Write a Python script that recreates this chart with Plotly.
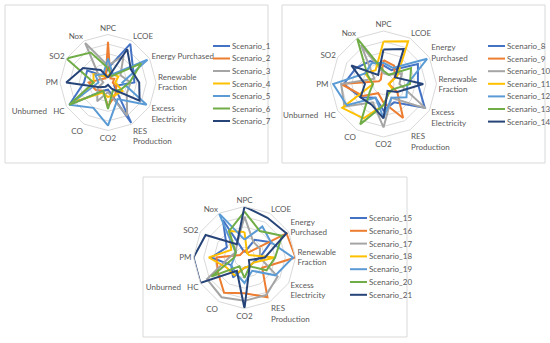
import plotly.graph_objects as go

W, H = 550, 343

categories = ["NPC", "LCOE", "Energy Purchased", "Renewable Fraction", "Excess Electricity",
              "RES Production", "CO2", "CO", "Unburned HC", "PM", "SO2", "Nox"]
labels_a = ["NPC", "LCOE", "Energy Purchased", "Renewable<br>Fraction", "Excess<br>Electricity",
            "RES<br>Production", "CO2", "CO", "Unburned\u00a0\u00a0\u00a0HC", "PM", "SO2", "Nox"]
labels_b = ["NPC", "LCOE", "Energy<br>Purchased", "Renewable<br>Fraction", "Excess<br>Electricity",
            "RES<br>Production", "CO2", "CO", "Unburned\u00a0\u00a0\u00a0HC", "PM", "SO2", "Nox"]

colors = ["#4472C4", "#ED7D31", "#A5A5A5", "#FFC000", "#5B9BD5", "#70AD47", "#264478"]

# Panel 1
names_1 = ["Scenario_1", "Scenario_2", "Scenario_3", "Scenario_4", "Scenario_5", "Scenario_6", "Scenario_7"]
scenario_1 = [0.30, 0.93, 0.60, 0.55, 0.15, 0.97, 0.15, 0.20, 0.93, 0.50, 0.50, 0.15]
scenario_2 = [0.85, 0.10, 0.15, 0.10, 0.20, 0.30, 0.50, 0.20, 0.30, 0.40, 0.15, 0.10]
scenario_3 = [0.35, 0.65, 0.30, 0.47, 0.45, 0.80, 0.20, 0.45, 0.25, 0.10, 0.20, 0.95]
scenario_4 = [0.15, 0.20, 0.25, 0.15, 0.35, 0.30, 0.30, 0.25, 0.80, 0.30, 0.35, 0.15]
scenario_5 = [0.50, 0.20, 0.95, 0.30, 0.93, 0.40, 0.90, 0.61, 0.93, 0.20, 0.30, 0.20]
scenario_6 = [0.30, 0.15, 0.80, 0.45, 0.30, 0.20, 0.55, 0.20, 0.93, 0.30, 1.00, 0.72]
scenario_7 = [0.10, 0.80, 0.55, 0.65, 0.76, 0.15, 0.05, 0.10, 0.20, 0.87, 0.60, 0.30]

# Panel 2
names_2 = ["Scenario_8", "Scenario_9", "Scenario_10", "Scenario_11", "Scenario_12", "Scenario_13", "Scenario_14"]
scenario_8 = [0.35, 0.30, 0.75, 0.65, 0.90, 0.40, 0.50, 0.30, 0.50, 0.75, 0.60, 0.50]
scenario_9 = [0.45, 0.40, 0.25, 0.10, 0.30, 0.74, 0.35, 0.20, 0.45, 0.80, 0.10, 0.10]
scenario_10 = [0.20, 0.20, 0.40, 0.30, 0.92, 0.30, 0.82, 0.40, 0.85, 0.80, 0.20, 0.85]
scenario_11 = [0.80, 0.93, 0.30, 0.10, 0.20, 0.20, 0.40, 0.75, 0.90, 0.20, 0.40, 0.30]
scenario_12 = [0.40, 0.35, 0.95, 0.45, 0.50, 0.30, 0.64, 0.30, 0.80, 0.95, 0.40, 0.45]
scenario_13 = [0.25, 0.20, 0.60, 0.50, 0.20, 0.20, 0.40, 0.88, 0.30, 0.20, 0.35, 1.00]
scenario_14 = [0.65, 0.76, 0.25, 0.75, 0.30, 0.15, 0.65, 0.45, 0.50, 0.35, 0.70, 0.20]

# Panel 3
names_3 = ["Scenario_15", "Scenario_16", "Scenario_17", "Scenario_18", "Scenario_19", "Scenario_20", "Scenario_21"]
scenario_15 = [0.10, 0.40, 0.60, 0.30, 0.20, 0.20, 0.20, 0.45, 0.30, 0.65, 0.40, 0.85]
scenario_16 = [0.15, 0.10, 0.95, 1.00, 0.40, 0.90, 0.70, 0.80, 0.60, 0.55, 0.10, 0.10]
scenario_17 = [0.80, 0.35, 0.35, 0.30, 0.75, 0.85, 0.85, 0.90, 0.85, 0.30, 0.20, 0.30]
scenario_18 = [0.50, 0.10, 0.10, 0.60, 0.20, 0.20, 0.20, 0.40, 0.40, 0.70, 0.30, 0.60]
scenario_19 = [0.35, 0.70, 0.60, 0.95, 0.70, 0.30, 0.50, 0.35, 0.30, 0.20, 0.20, 1.00]
scenario_20 = [0.90, 0.60, 0.85, 0.60, 0.50, 0.20, 0.40, 0.20, 0.75, 0.20, 0.20, 0.60]
scenario_21 = [1.00, 0.90, 0.95, 0.40, 0.10, 0.20, 1.00, 0.30, 1.00, 1.00, 0.88, 0.30]

panels = [
    dict(names=names_1, series=[scenario_1, scenario_2, scenario_3, scenario_4, scenario_5, scenario_6, scenario_7],
         labels=labels_a, center=(108, 82.5), R=48, box=(5, 5, 268, 163),
         leg_x=213, leg_y=46, leg_dy=12.5),
    dict(names=names_2, series=[scenario_8, scenario_9, scenario_10, scenario_11, scenario_12, scenario_13, scenario_14],
         labels=labels_b, center=(383.5, 84), R=53, box=(282, 5, 545, 163),
         leg_x=488, leg_y=46, leg_dy=12.6),
    dict(names=names_3, series=[scenario_15, scenario_16, scenario_17, scenario_18, scenario_19, scenario_20, scenario_21],
         labels=labels_b, center=(244.5, 257.5), R=51, box=(143, 177, 407, 337),
         leg_x=350, leg_y=218, leg_dy=12.8),
]

def px(x):
    return x / W

def py(y):
    return 1 - y / H

fig = go.Figure()
shapes = []
annotations = []
layout_polars = {}
font_family = "Lato, Open Sans, sans-serif"
txt_color = "#595959"

for i, p in enumerate(panels):
    key = "polar" if i == 0 else f"polar{i+1}"
    theta = p["labels"] + [p["labels"][0]]
    for name, vals, col in zip(p["names"], p["series"], colors):
        fig.add_trace(go.Scatterpolar(
            r=list(vals) + [vals[0]], theta=theta, mode="lines", name=name,
            line=dict(color=col, width=2), subplot=key, showlegend=False))
    cx, cy = p["center"]
    R = p["R"]
    layout_polars[key] = dict(
        domain=dict(x=[px(cx - R), px(cx + R)], y=[py(cy + R), py(cy - R)]),
        gridshape="linear",
        bgcolor="rgba(0,0,0,0)",
        radialaxis=dict(range=[0, 1], showticklabels=False, ticks="", showline=False,
                        tickvals=[0.2, 0.4, 0.6, 0.8, 1.0], gridcolor="#D9D9D9", gridwidth=1),
        angularaxis=dict(direction="clockwise", rotation=90, type="category",
                         categoryorder="array", categoryarray=p["labels"],
                         showgrid=False, showline=True, linecolor="#D9D9D9", linewidth=1,
                         ticks="", tickfont=dict(size=8, color=txt_color, family=font_family)),
    )
    x0, y0, x1, y1 = p["box"]
    shapes.append(dict(type="rect", xref="paper", yref="paper",
                       x0=px(x0), x1=px(x1), y0=py(y1), y1=py(y0),
                       line=dict(color="#D9D9D9", width=1), fillcolor="rgba(0,0,0,0)"))
    for j, (name, col) in enumerate(zip(p["names"], colors)):
        yy = p["leg_y"] + j * p["leg_dy"]
        shapes.append(dict(type="line", xref="paper", yref="paper",
                           x0=px(p["leg_x"]), x1=px(p["leg_x"] + 17), y0=py(yy), y1=py(yy),
                           line=dict(color=col, width=2)))
        annotations.append(dict(xref="paper", yref="paper", x=px(p["leg_x"] + 17), y=py(yy),
                                xanchor="left", yanchor="middle", text=name, showarrow=False,
                                font=dict(size=8, color=txt_color, family=font_family)))

fig.update_layout(
    width=W, height=H, margin=dict(l=0, r=0, t=0, b=0),
    paper_bgcolor="white", plot_bgcolor="white",
    showlegend=False, shapes=shapes, annotations=annotations,
    font=dict(family=font_family, color=txt_color),
    **layout_polars,
)

fig.write_html("out.html", config={"displayModeBar": False, "staticPlot": True},
               post_script="document.body.style.margin='0';document.body.style.overflow='hidden';")
